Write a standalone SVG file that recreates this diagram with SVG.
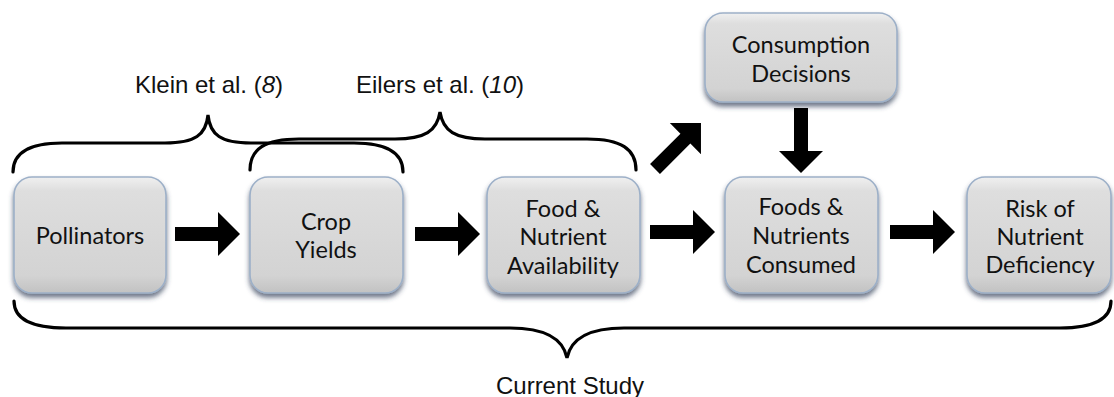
<svg xmlns="http://www.w3.org/2000/svg" width="1114" height="397" viewBox="0 0 1114 397">
  <defs>
    <linearGradient id="boxfill" x1="0" y1="0" x2="0" y2="1">
      <stop offset="0" stop-color="#f0f0f0"/>
      <stop offset="0.12" stop-color="#dedede"/>
      <stop offset="0.85" stop-color="#d3d3d3"/>
      <stop offset="1" stop-color="#c2c2c2"/>
    </linearGradient>
    <filter id="shadow" x="-10%" y="-10%" width="120%" height="130%">
      <feDropShadow dx="0" dy="4" stdDeviation="2.5" flood-color="#34405a" flood-opacity="0.7"/>
    </filter>
    <path id="arrow" d="M0,-7 H43 V-22 L65,0 L43,22 V7 H0 Z"/>
  </defs>
  <style>
    .box { fill: url(#boxfill); stroke: #9db0c8; stroke-width: 1.6; filter: url(#shadow); }
    .lbl { font-family: Lato, "Open Sans", "Noto Sans", sans-serif; font-size: 23.5px; fill: #111; text-anchor: middle; }
    .ref { font-family: "Liberation Sans", Arial, sans-serif; font-size: 24px; fill: #111; text-anchor: middle; }
    .brace { fill: none; stroke: #000; stroke-width: 3.2; stroke-linecap: round; }
    .arr { fill: #000; }
  </style>
  <rect width="1114" height="397" fill="#fff"/>

  <g id="braces">
    <path class="brace" d="M13,172 C13,153 28,143 62,143 L165,143 C195,143 206,135 208,115 C210,135 221,143 251,143 L354,143 C388,143 403,153 403,172"/>
    <path class="brace" d="M250,170 C250,149 265,139 299,139 L395,139 C425,139 437,131 440,112 C443,131 455,139 485,139 L587,139 C621,139 636,149 636,170"/>
    <path class="brace" d="M14,301 C14,318 30,328 66,328 L510,328 C545,328 563,338 567,358 C571,338 589,328 624,328 L1060,328 C1095,328 1111,318 1111,301"/>
    <text class="ref" x="209" y="93">Klein et al. (<tspan font-style="italic">8</tspan>)</text>
    <text class="ref" x="440" y="93">Eilers et al. (<tspan font-style="italic">10</tspan>)</text>
    <text class="ref" x="570" y="394">Current Study</text>
  </g>

  <g id="node-pollinators">
    <rect class="box" x="14" y="177" width="152" height="116" rx="18"/>
    <text class="lbl" x="90" y="244">Pollinators</text>
  </g>
  <g id="node-crop">
    <rect class="box" x="250" y="177" width="153" height="116" rx="18"/>
    <text class="lbl" x="326" y="230">Crop</text>
    <text class="lbl" x="326" y="258">Yields</text>
  </g>
  <g id="node-availability">
    <rect class="box" x="487" y="177" width="153" height="116" rx="18"/>
    <text class="lbl" x="563" y="217">Food &amp;</text>
    <text class="lbl" x="563" y="245">Nutrient</text>
    <text class="lbl" x="563" y="274">Availability</text>
  </g>
  <g id="node-decisions">
    <rect class="box" x="705" y="13" width="192" height="89" rx="18"/>
    <text class="lbl" x="801" y="53">Consumption</text>
    <text class="lbl" x="801" y="82">Decisions</text>
  </g>
  <g id="node-consumed">
    <rect class="box" x="725" y="177" width="153" height="116" rx="18"/>
    <text class="lbl" x="801" y="215">Foods &amp;</text>
    <text class="lbl" x="801" y="244">Nutrients</text>
    <text class="lbl" x="801" y="273">Consumed</text>
  </g>
  <g id="node-risk">
    <rect class="box" x="967" y="177" width="144" height="116" rx="18"/>
    <text class="lbl" x="1040" y="217">Risk of</text>
    <text class="lbl" x="1040" y="245">Nutrient</text>
    <text class="lbl" x="1040" y="273">Deficiency</text>
  </g>

  <g id="connectors">
    <use class="arr" href="#arrow" transform="translate(175,234)"/>
    <use class="arr" href="#arrow" transform="translate(415,234)"/>
    <use class="arr" href="#arrow" transform="translate(650,232)"/>
    <use class="arr" href="#arrow" transform="translate(890,232)"/>
    <use class="arr" href="#arrow" transform="translate(801,108) rotate(90)"/>
    <use class="arr" href="#arrow" transform="translate(655,169) rotate(-45)"/>
  </g>
</svg>
